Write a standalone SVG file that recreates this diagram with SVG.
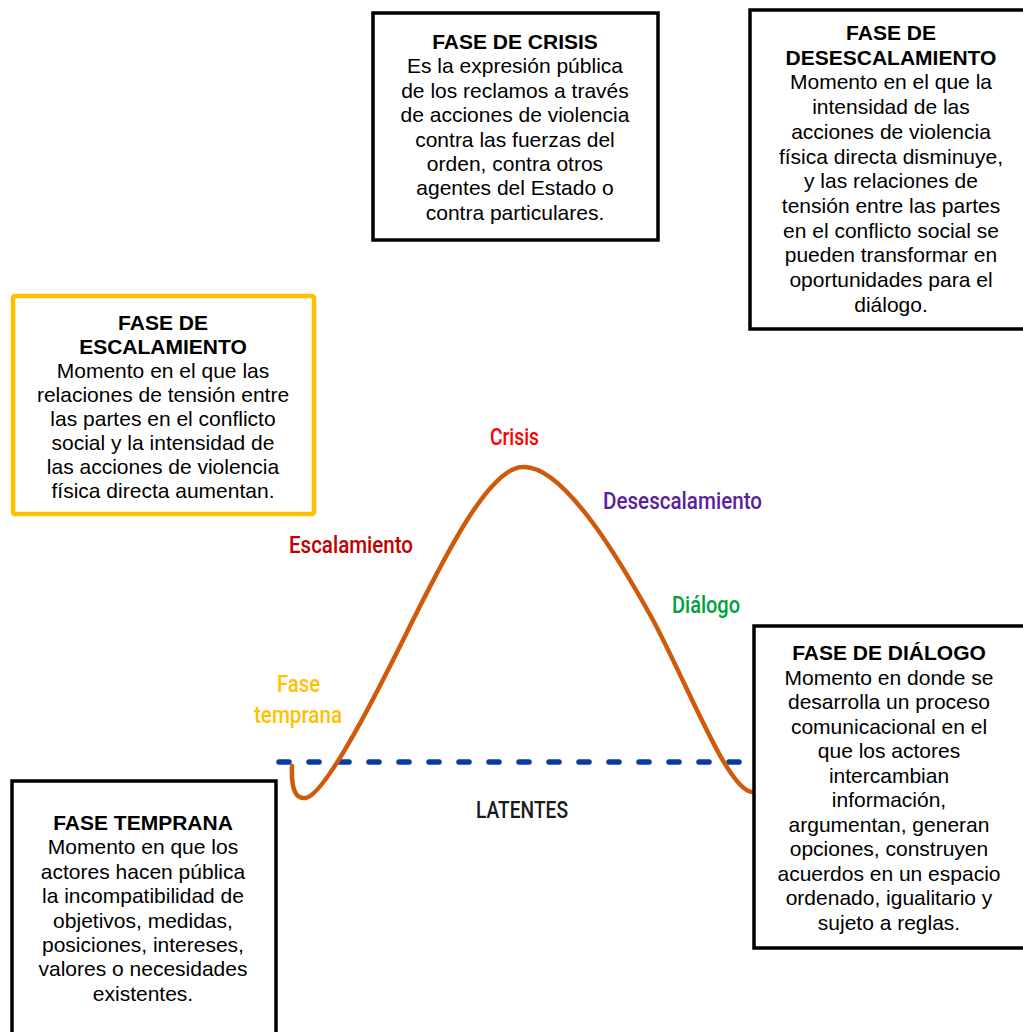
<svg xmlns="http://www.w3.org/2000/svg" width="1023" height="1032" viewBox="0 0 1023 1032">
<style>
.box{fill:#fff;stroke:#000;stroke-width:3.5}
.ybox{fill:#fff;stroke:#FFC000;stroke-width:4.5}
.t{font-family:"Liberation Sans",Arial,sans-serif;font-size:21px;fill:#000;text-anchor:middle}
.b{font-weight:bold}
.lbl{font-family:Roboto,"Liberation Sans",sans-serif;font-size:23px;font-weight:500}
</style>
<rect width="1023" height="1032" fill="#fff"/>
<g id="connectors">
<line x1="279" y1="762" x2="746" y2="762" stroke="#0B3C9C" stroke-width="5.5" stroke-dasharray="10 20" stroke-linecap="round"/>
<path d="M292,766 C291,790 296,799 305,798 C327,797 392,662 412,622 C447,552 490,467 523,467 C565,465 623,566 653,620 C690,690 728,790 752,792" fill="none" stroke="#CF5A0C" stroke-width="4.5" stroke-linecap="round"/>
</g>
<g id="curve-labels">
<text class="lbl" x="490" y="445" fill="#FF0000" textLength="49" lengthAdjust="spacingAndGlyphs">Crisis</text>
<text class="lbl" x="603" y="509" fill="#5B1E9E" textLength="159" lengthAdjust="spacingAndGlyphs">Desescalamiento</text>
<text class="lbl" x="289" y="553" fill="#C00000" textLength="124" lengthAdjust="spacingAndGlyphs">Escalamiento</text>
<text class="lbl" x="672" y="613" fill="#00A040" textLength="68" lengthAdjust="spacingAndGlyphs">Diálogo</text>
<text class="lbl" x="277" y="692" fill="#FFC000" textLength="43" lengthAdjust="spacingAndGlyphs">Fase</text>
<text class="lbl" x="254" y="723" fill="#FFC000" textLength="88" lengthAdjust="spacingAndGlyphs">temprana</text>
<text class="lbl" x="476" y="818" fill="#1a1a1a" textLength="92" lengthAdjust="spacingAndGlyphs">LATENTES</text>
</g>
<g id="fase-crisis">
<rect class="box" x="373" y="13" width="285" height="227"/>
<text class="t" x="515"><tspan class="b" x="515" y="49">FASE DE CRISIS</tspan><tspan x="515" y="73.4">Es la expresión pública</tspan><tspan x="515" y="97.8">de los reclamos a través</tspan><tspan x="515" y="122.2">de acciones de violencia</tspan><tspan x="515" y="146.6">contra las fuerzas del</tspan><tspan x="515" y="171">orden, contra otros</tspan><tspan x="515" y="195.4">agentes del Estado o</tspan><tspan x="515" y="219.8">contra particulares.</tspan></text>
</g>
<g id="fase-desescalamiento">
<rect class="box" x="750" y="10" width="290" height="319"/>
<text class="t" x="891"><tspan class="b" x="891" y="40">FASE DE</tspan><tspan class="b" x="891" y="64.7">DESESCALAMIENTO</tspan><tspan x="891" y="89.4">Momento en el que la</tspan><tspan x="891" y="114.1">intensidad de las</tspan><tspan x="891" y="138.8">acciones de violencia</tspan><tspan x="891" y="163.5">física directa disminuye,</tspan><tspan x="891" y="188.2">y las relaciones de</tspan><tspan x="891" y="212.9">tensión entre las partes</tspan><tspan x="891" y="237.6">en el conflicto social se</tspan><tspan x="891" y="262.3">pueden transformar en</tspan><tspan x="891" y="287">oportunidades para el</tspan><tspan x="891" y="311.7">diálogo.</tspan></text>
</g>
<g id="fase-escalamiento">
<rect class="ybox" x="13" y="296" width="301" height="218" rx="2"/>
<text class="t" x="163"><tspan class="b" x="163" y="330">FASE DE</tspan><tspan class="b" x="163" y="354">ESCALAMIENTO</tspan><tspan x="163" y="378">Momento en el que las</tspan><tspan x="163" y="402">relaciones de tensión entre</tspan><tspan x="163" y="426">las partes en el conflicto</tspan><tspan x="163" y="450">social y la intensidad de</tspan><tspan x="163" y="474">las acciones de violencia</tspan><tspan x="163" y="498">física directa aumentan.</tspan></text>
</g>
<g id="fase-dialogo">
<rect class="box" x="754" y="626" width="290" height="322"/>
<text class="t" x="889"><tspan class="b" x="889" y="660">FASE DE DIÁLOGO</tspan><tspan x="889" y="684.5">Momento en donde se</tspan><tspan x="889" y="709">desarrolla un proceso</tspan><tspan x="889" y="733.5">comunicacional en el</tspan><tspan x="889" y="758">que los actores</tspan><tspan x="889" y="782.5">intercambian</tspan><tspan x="889" y="807">información,</tspan><tspan x="889" y="831.5">argumentan, generan</tspan><tspan x="889" y="856">opciones, construyen</tspan><tspan x="889" y="880.5">acuerdos en un espacio</tspan><tspan x="889" y="905">ordenado, igualitario y</tspan><tspan x="889" y="929.5">sujeto a reglas.</tspan></text>
</g>
<g id="fase-temprana">
<rect class="box" x="12" y="781" width="264" height="270"/>
<text class="t" x="143"><tspan class="b" x="143" y="830">FASE TEMPRANA</tspan><tspan x="143" y="854.4">Momento en que los</tspan><tspan x="143" y="878.8">actores hacen pública</tspan><tspan x="143" y="903.2">la incompatibilidad de</tspan><tspan x="143" y="927.6">objetivos, medidas,</tspan><tspan x="143" y="952">posiciones, intereses,</tspan><tspan x="143" y="976.4">valores o necesidades</tspan><tspan x="143" y="1000.8">existentes.</tspan></text>
</g>
</svg>
